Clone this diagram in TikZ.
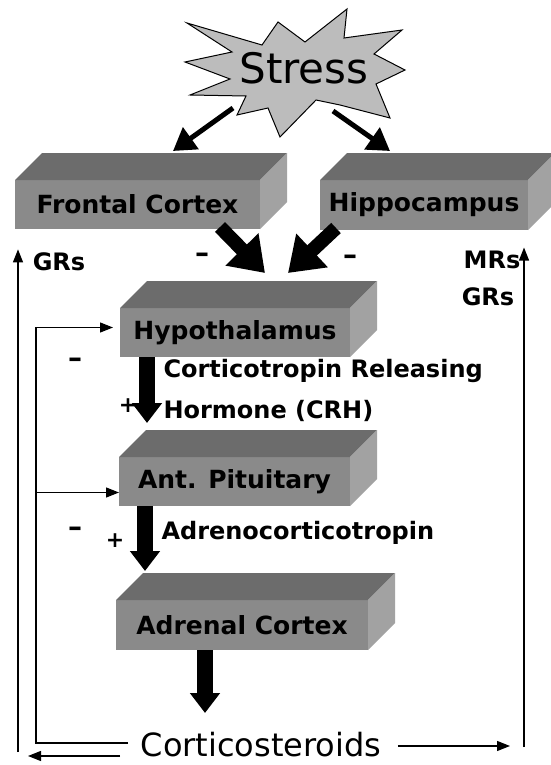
\documentclass[tikz,border=0pt]{standalone}
\usepackage{fontspec}
\setmainfont{DejaVu Sans}
\usepackage{tikz}
\usetikzlibrary{arrows.meta,positioning,calc}
\definecolor{boxfront}{RGB}{138, 138, 138}
\definecolor{boxtop}{RGB}{108, 108, 108}
\definecolor{boxside}{RGB}{162, 162, 162}
\definecolor{burstgray}{RGB}{188, 188, 188}

% top and side faces of a box node
\newcommand{\boxfaces}[1]{%
  \fill[boxtop] (#1.north west) -- ++(27,-27) -- ($(#1.north east)+(27,-27)$) -- (#1.north east) -- cycle;
  \fill[boxside] (#1.north east) -- ++(27,-27) -- ($(#1.south east)+(27,-27)$) -- (#1.south east) -- cycle;}

\begin{document}
\begin{tikzpicture}[x=1pt, y=-1pt]
    \tikzstyle{cortbox} = [fill=boxfront, outer sep=0pt, inner sep=0pt, font=\fontsize{25}{28}\selectfont\bfseries]
    \tikzstyle{lbl} = [font=\fontsize{24}{28}\selectfont\bfseries]
    \tikzstyle{sign} = [font=\fontsize{28}{30}\selectfont\bfseries]
    \tikzstyle{stressarrow} = [line width=5pt, -{Triangle[length=22pt,width=26pt]}]
    \tikzstyle{bigarrow} = [line width=14pt, -{Triangle[length=33pt,width=44pt]}]
    \tikzstyle{flowarrow} = [line width=16pt, -{Triangle[length=20pt,width=29pt]}]
    \tikzstyle{fbline} = [line width=1.2pt, -{Triangle[length=13pt,width=10pt]}]

    \useasboundingbox[fill=white] (0,0) rectangle (550,765);

    % stress burst
    \draw[fill=burstgray, line width=1pt] (187,23) -- (262,45) -- (278,22) -- (305,42) -- (347,9) -- (344,38)
        -- (402,30) -- (374,54) -- (405,70) -- (376,84) -- (390,118) -- (340,105) -- (316,100) -- (280,137)
        -- (268,108) -- (237,115) -- (246,96) -- (190,95) -- (230,79) -- (185,62) -- (232,52) -- cycle;
    \node (stress) at (304,68) {\fontsize{42}{48}\selectfont Stress};

    \node[cortbox, minimum width=245pt, minimum height=49pt] (frontal) at (137.5,204.5) {Frontal Cortex};
    \node[cortbox, minimum width=208pt, minimum height=50pt] (hippo) at (424,205) {Hippocampus};
    \node[cortbox, minimum width=230pt, minimum height=49pt] (hypo) at (235,332.5) {Hypothalamus};
    \node[cortbox, minimum width=231pt, minimum height=49pt] (pit) at (234.5,481.5) {Ant. Pituitary};
    \node[cortbox, minimum width=252pt, minimum height=50pt] (adrenal) at (242,625) {Adrenal Cortex};
    \boxfaces{frontal}
    \boxfaces{hippo}
    \boxfaces{hypo}
    \boxfaces{pit}
    \boxfaces{adrenal}

    \node (cort) at (261,745) {\fontsize{32}{36}\selectfont Corticosteroids};
    \node[lbl, anchor=west, align=left, font=\fontsize{24}{41}\selectfont\bfseries] (crh) at (160,390) {Corticotropin Releasing\\Hormone (CRH)};
    \node[lbl, anchor=west] (acth) at (158,533) {Adrenocorticotropin};
    \node[lbl] (grl) at (59,262) {GRs};
    \node[lbl] (mrs) at (492,260) {MRs};
    \node[lbl] (grr) at (488,297) {GRs};

    \node[sign] (m1) at (202,258) {–};
    \node[sign] (m2) at (350,260) {–};
    \node[sign] (m3) at (75,363) {–};
    \node[sign] (m4) at (75,532) {–};
    \node[sign, font=\fontsize{22}{24}\selectfont\bfseries] (p1) at (128,406) {+};
    \node[sign, font=\fontsize{22}{24}\selectfont\bfseries] (p2) at (115,541) {+};

    \coordinate (burstl) at (233,108);
    \coordinate (burstr) at (333,111);
    \coordinate (frontin) at (173,151);
    \coordinate (hippoin) at (390,151);
    \draw[stressarrow] (burstl) -- (frontin);
    \draw[stressarrow] (burstr) -- (hippoin);

    \draw[bigarrow] ($(frontal.south east)+(-40,-2)$) -- ($(hypo.north)+(30,-35)$);
    \draw[bigarrow] ($(hippo.south west)+(16,-2)$) -- ($(hypo.north)+(53,-35)$);

    \draw[flowarrow] ($(hypo.south west)+(27,0)$) -- ($(pit.north west)+(28,-34)$);
    \draw[flowarrow] ($(pit.south west)+(26,0)$) -- ($(adrenal.north west)+(29,-29)$);
    \draw[flowarrow] ($(adrenal.south)+(-37,0)$) -- ($(adrenal.south)+(-37,63)$);

    % feedback loops
    \coordinate (railin) at (36,743);
    \coordinate (railout) at (18,752);
    \coordinate (railright) at (524,747);
    \coordinate (outtip) at (28,756);
    \coordinate (righttip) at (510,746);
    \draw[fbline, shorten >=7pt] ($(cort.west)+(-9,-2)$) -- (railin) |- ([yshift=5pt]hypo.west);
    \draw[fbline] ([yshift=-11pt]railin |- pit.west) -- ([yshift=-11pt]pit.west);
    \draw[fbline] ($(cort.west)+(-17,11)$) -- (outtip);
    \draw[fbline] (railout) -- (railout |- grl.north);
    \draw[fbline] ($(cort.east)+(13,1)$) -- (righttip);
    \draw[fbline] (railright) -- (railright |- mrs.north);
\end{tikzpicture}
\end{document}
